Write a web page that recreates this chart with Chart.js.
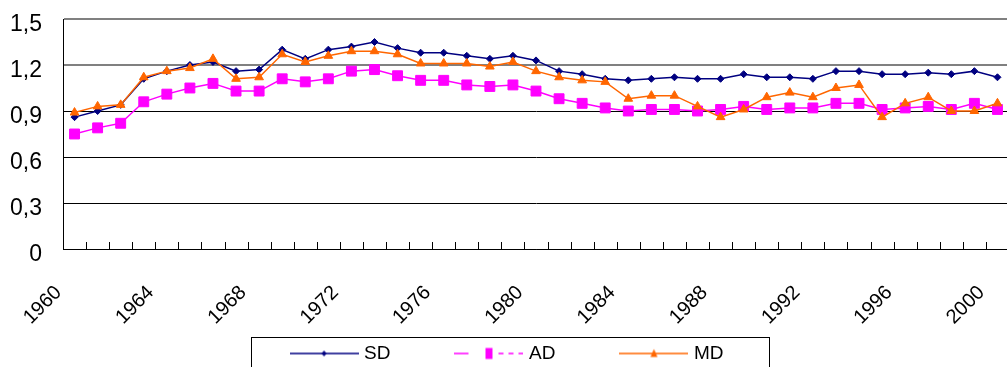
<!DOCTYPE html>
<html>
<head>
<meta charset="utf-8">
<script src="https://cdn.jsdelivr.net/npm/chart.js@4"></script>
<style>
html, body { margin: 0; padding: 0; background: #fff; overflow: hidden; }
canvas { display: block; }
</style>
</head>
<body>
<canvas id="chart" width="1017" height="373"></canvas>
<script>
const years = [
    '1960', '1961', '1962', '1963', '1964', '1965', '1966', '1967', '1968', '1969',
    '1970', '1971', '1972', '1973', '1974', '1975', '1976', '1977', '1978', '1979',
    '1980', '1981', '1982', '1983', '1984', '1985', '1986', '1987', '1988', '1989',
    '1990', '1991', '1992', '1993', '1994', '1995', '1996', '1997', '1998', '1999',
    '2000'
];

const sdValues = [
    0.86, 0.90, 0.94, 1.11, 1.16, 1.20, 1.22, 1.16, 1.17, 1.30,
    1.24, 1.30, 1.32, 1.35, 1.31, 1.28, 1.28, 1.26, 1.24, 1.26,
    1.23, 1.16, 1.14, 1.11, 1.10, 1.11, 1.12, 1.11, 1.11, 1.14,
    1.12, 1.12, 1.11, 1.16, 1.16, 1.14, 1.14, 1.15, 1.14, 1.16,
    1.12
];
const adValues = [
    0.75, 0.79, 0.82, 0.96, 1.01, 1.05, 1.08, 1.03, 1.03, 1.11,
    1.09, 1.11, 1.16, 1.17, 1.13, 1.10, 1.10, 1.07, 1.06, 1.07,
    1.03, 0.98, 0.95, 0.92, 0.90, 0.91, 0.91, 0.90, 0.91, 0.93,
    0.91, 0.92, 0.92, 0.95, 0.95, 0.91, 0.92, 0.93, 0.91, 0.95,
    0.91
];
const mdValues = [
    0.89, 0.93, 0.94, 1.12, 1.16, 1.18, 1.24, 1.11, 1.12, 1.27,
    1.22, 1.26, 1.29, 1.29, 1.27, 1.21, 1.21, 1.21, 1.19, 1.22,
    1.16, 1.12, 1.10, 1.09, 0.98, 1.00, 1.00, 0.93, 0.86, 0.91,
    0.99, 1.02, 0.99, 1.05, 1.07, 0.86, 0.95, 0.99, 0.90, 0.90,
    0.95
];

const navy = '#000080';
const magenta = '#FF00FF';
const orange = '#FF6600';
const font = 'Arial, "Liberation Sans", sans-serif';

// little line+marker pictures for the legend, like the Excel legend keys
function legendKey(color, shape, dashed) {
    const c = document.createElement('canvas');
    c.width = 69;
    c.height = 16;
    const g = c.getContext('2d');
    g.strokeStyle = color;
    g.fillStyle = color;
    g.lineWidth = 1.5;
    const my = 8;
    if (dashed) {
        g.beginPath(); g.moveTo(0, my); g.lineTo(14, my); g.stroke();
        g.setLineDash([5, 5]);
        g.beginPath(); g.moveTo(44, my); g.lineTo(69, my); g.stroke();
        g.setLineDash([]);
    } else {
        g.beginPath(); g.moveTo(0, my); g.lineTo(69, my); g.stroke();
    }
    const cx = 34.5;
    g.beginPath();
    if (shape === 'diamond') {
        g.moveTo(cx, my - 3); g.lineTo(cx + 2.5, my); g.lineTo(cx, my + 3); g.lineTo(cx - 2.5, my);
    } else if (shape === 'square') {
        g.rect(cx - 3.5, my - 5.5, 7, 11);
    } else {
        g.moveTo(cx, my - 4.5); g.lineTo(cx + 3.5, my + 3.5); g.lineTo(cx - 3.5, my + 3.5);
    }
    g.closePath();
    g.fill();
    return c;
}

// small tick marks pointing up into the plot at category boundaries
const insideTicks = {
    id: 'insideTicks',
    beforeDatasetsDraw(chart) {
        const xs = chart.scales.x;
        const ctx = chart.ctx;
        const bottom = chart.chartArea.bottom;
        const step = xs.width / years.length;
        ctx.save();
        ctx.strokeStyle = '#000';
        ctx.lineWidth = 1;
        ctx.beginPath();
        for (let i = 1; i <= years.length; i++) {
            const x = Math.round(xs.left + i * step) + 0.5;
            ctx.moveTo(x, bottom - 7);
            ctx.lineTo(x, bottom);
        }
        ctx.stroke();
        ctx.restore();
    }
};

// frame round the legend
const legendFrame = {
    id: 'legendFrame',
    afterDraw(chart) {
        const boxes = chart.legend.legendHitBoxes;
        if (!boxes || !boxes.length) return;
        const last = boxes[boxes.length - 1];
        const left = Math.round(boxes[0].left - 43) + 0.5;
        const right = Math.round(last.left + last.width + 46) + 0.5;
        const top = Math.round(boxes[0].top - 7) + 0.5;
        const ctx = chart.ctx;
        ctx.save();
        ctx.strokeStyle = '#000';
        ctx.lineWidth = 1;
        ctx.strokeRect(left, top, right - left, chart.height + 10 - top);
        ctx.restore();
    }
};

// trailing gap after a legend entry, the Excel legend spreads its entries wide
const legendGap = '           ';

const ctx = document.getElementById('chart').getContext('2d');
new Chart(ctx, {
    type: 'line',
    data: {
        labels: years,
        datasets: [
            {
                label: 'SD',
                data: sdValues,
                borderColor: navy,
                backgroundColor: navy,
                borderWidth: 1.5,
                pointStyle: 'rectRot',
                pointRadius: 3.5,
                pointBorderWidth: 1,
                tension: 0,
                order: 2,
                legendKey: legendKey(navy, 'diamond', false)
            },
            {
                label: 'AD',
                data: adValues,
                borderColor: magenta,
                backgroundColor: magenta,
                borderWidth: 1.5,
                pointStyle: 'rect',
                pointRadius: 7,
                pointBorderWidth: 1,
                tension: 0,
                order: 1,
                legendKey: legendKey(magenta, 'square', true)
            },
            {
                label: 'MD',
                data: mdValues,
                borderColor: orange,
                backgroundColor: orange,
                borderWidth: 1.5,
                pointStyle: 'triangle',
                pointRadius: 5,
                pointBorderWidth: 1,
                tension: 0,
                order: 0,
                legendKey: legendKey(orange, 'triangle', false)
            }
        ]
    },
    options: {
        responsive: false,
        animation: false,
        devicePixelRatio: 1,
        layout: { padding: { top: 19, left: 0, right: 0, bottom: 0 } },
        plugins: {
            tooltip: { enabled: false },
            legend: {
                position: 'bottom',
                labels: {
                    usePointStyle: true,
                    pointStyleWidth: 61,
                    padding: 10,
                    color: '#000',
                    font: { family: font, size: 19 },
                    sort: (a, b) => a.datasetIndex - b.datasetIndex,
                    generateLabels(chart) {
                        const n = chart.data.datasets.length;
                        return chart.data.datasets.map((ds, i) => ({
                            text: i < n - 1 ? ds.label + legendGap : ds.label,
                            datasetIndex: i,
                            pointStyle: ds.legendKey,
                            fillStyle: ds.borderColor,
                            strokeStyle: ds.borderColor,
                            fontColor: '#000',
                            lineWidth: 0,
                            hidden: false
                        }));
                    }
                }
            }
        },
        scales: {
            x: {
                offset: true,
                grid: { display: false },
                border: { color: '#000', width: 1 },
                afterFit(scale) {
                    // plot runs past the right edge of the picture, like the cropped original
                    scale.height = 85;
                    scale.paddingLeft = 0;
                    scale.paddingRight = 0;
                },
                ticks: {
                    autoSkip: false,
                    minRotation: 45,
                    maxRotation: 45,
                    padding: 24,
                    labelOffset: -16,
                    color: '#000',
                    font: { family: font, size: 20 },
                    callback: (value, index) => (index % 4 === 0 ? years[index] : '')
                }
            },
            y: {
                min: 0,
                max: 1.5,
                afterFit(scale) { scale.width = 63; },
                border: { color: '#000', width: 1 },
                grid: {
                    drawTicks: true,
                    tickLength: 21,
                    tickColor: 'rgba(0,0,0,0)',
                    color: (c) => (c.tick && c.tick.value >= 1.2 ? '#808080' : '#000'),
                    lineWidth: (c) => (c.tick && c.tick.value >= 1.2 ? 2 : 1)
                },
                ticks: {
                    stepSize: 0.3,
                    padding: 0,
                    labelOffset: 6,
                    color: '#000',
                    font: { family: font, size: 23 },
                    callback: (value) => (value === 0 ? '0' : value.toFixed(1).replace('.', ','))
                }
            }
        }
    },
    plugins: [insideTicks, legendFrame]
});
</script>
</body>
</html>
